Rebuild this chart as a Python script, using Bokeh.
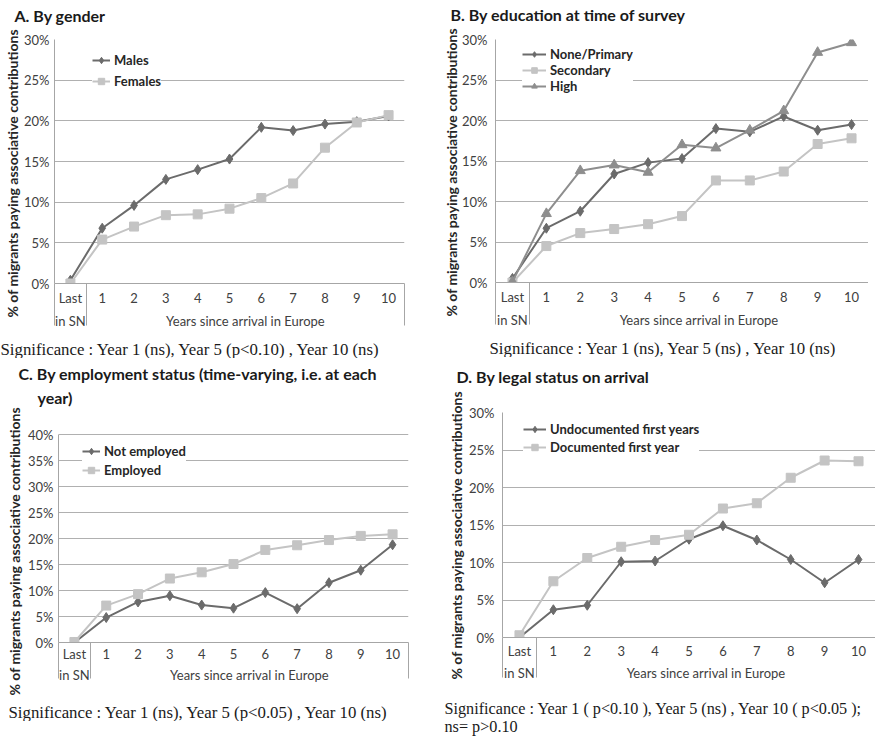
from bokeh.plotting import figure
from bokeh.models import (FixedTicker, LinearAxis, NumeralTickFormatter, Title, Legend,
                          LegendItem, Range1d, Grid)
from bokeh.layouts import row, column
from bokeh.embed import file_html
from bokeh.resources import INLINE

# ---------------- data ----------------
x_labels = ["Last", "1", "2", "3", "4", "5", "6", "7", "8", "9", "10"]
x_second_row = ["in SN", "Years since arrival in Europe"]
y_label = "% of migrants paying associative contributions"

a_males = [0.004, 0.068, 0.096, 0.128, 0.140, 0.153, 0.192, 0.188, 0.196, 0.199, 0.206]
a_females = [0.000, 0.054, 0.070, 0.084, 0.085, 0.092, 0.105, 0.123, 0.167, 0.198, 0.207]

b_none = [0.005, 0.067, 0.088, 0.134, 0.148, 0.153, 0.190, 0.186, 0.205, 0.188, 0.195]
b_secondary = [0.000, 0.045, 0.061, 0.066, 0.072, 0.082, 0.126, 0.126, 0.137, 0.171, 0.178]
b_high = [0.001, 0.085, 0.138, 0.145, 0.136, 0.170, 0.166, 0.188, 0.212, 0.284, 0.296]

c_not_employed = [0.000, 0.048, 0.078, 0.090, 0.072, 0.066, 0.096, 0.065, 0.115, 0.139, 0.188]
c_employed = [0.001, 0.071, 0.093, 0.123, 0.135, 0.151, 0.178, 0.187, 0.197, 0.205, 0.208]

d_undocumented = [0.000, 0.037, 0.043, 0.101, 0.102, 0.131, 0.149, 0.130, 0.104, 0.073, 0.104]
d_documented = [0.003, 0.075, 0.106, 0.121, 0.130, 0.137, 0.172, 0.179, 0.213, 0.236, 0.235]

y_ticks_30 = [0, 0.05, 0.10, 0.15, 0.20, 0.25, 0.30]
y_ticks_40 = [0, 0.05, 0.10, 0.15, 0.20, 0.25, 0.30, 0.35, 0.40]

titles_a = ["A. By gender"]
titles_b = ["B. By education at time of survey"]
titles_c = ["C. By employment status (time-varying, i.e. at each", "year)"]
titles_d = ["D. By legal status on arrival"]

sig_a = ["Significance : Year 1 (ns), Year 5 (p<0.10) , Year 10 (ns)"]
sig_b = ["Significance : Year 1 (ns), Year 5 (ns) , Year 10 (ns)"]
sig_c = ["Significance : Year 1 (ns), Year 5 (p<0.05) , Year 10 (ns)"]
sig_d = ["Significance : Year 1 ( p<0.10 ), Year 5 (ns) , Year 10 (  p<0.05 );\nns= p>0.10"]

# ---------------- styles ----------------
DARK = "#6b6b6b"
LIGHT = "#c4c4c4"
MID = "#8e8e8e"
GRID = "#b0b0b0"
AXIS = "#a6a6a6"
TXT = "#404040"
SANS = "Lato"
SERIF = "Liberation Serif"
TICK_FS = "13px"

STY = {
    "dark": dict(color=DARK, marker="diamond", size=10),
    "light": dict(color=LIGHT, marker="square", size=9),
    "mid": dict(color=MID, marker="triangle", size=10),
}


def spacer(n, at):
    """Invisible axis used only to reserve n pixels in a side panel."""
    return LinearAxis(ticker=FixedTicker(ticks=[at]), major_label_overrides={at: ""},
                      major_label_text_font_size="1px", major_label_standoff=0,
                      major_tick_out=n, major_tick_in=0, minor_tick_out=0, minor_tick_in=0,
                      axis_line_color=None, major_tick_line_color="white",
                      minor_tick_line_color=None)


def make_panel(cfg, series):
    x = list(range(len(x_labels)))
    ytop = cfg["yticks"][-1]
    p = figure(title=None, frame_width=cfg["fw"], frame_height=cfg["fh"] + cfg["y_pad"],
               min_border_left=cfg["bl"], min_border_right=cfg["br"],
               min_border_top=0, min_border_bottom=0,
               x_range=Range1d(-0.5, 10.5),
               y_range=Range1d(0, ytop * (cfg["fh"] + cfg["y_pad"]) / cfg["fh"]),
               x_axis_type=None, y_axis_type=None,
               output_backend="svg", toolbar_location=None)
    p.outline_line_color = None
    p.background_fill_color = "white"
    p.border_fill_color = "white"

    # y axis + grid
    yt = FixedTicker(ticks=cfg["yticks"])
    p.add_layout(Grid(dimension=1, ticker=yt, grid_line_color=GRID, grid_line_width=1))
    yaxis = LinearAxis(ticker=yt, formatter=NumeralTickFormatter(format="0%"), bounds=(0, ytop),
                       major_tick_out=0, major_tick_in=0, minor_tick_out=0, minor_tick_in=0,
                       axis_line_color=AXIS, major_label_standoff=cfg["ystand"],
                       major_label_text_font=SANS, major_label_text_font_size=TICK_FS,
                       major_label_text_color=TXT)
    p.add_layout(yaxis, "left")
    p.add_layout(Title(text=y_label, align="left", offset=cfg["ylab_off"], standoff=cfg["ylab_stand"],
                       text_font=SANS, text_font_style="bold", text_font_size="14px",
                       text_color="#262626"), "left")
    if cfg["l_gap"] > 0:
        p.add_layout(spacer(cfg["l_gap"], 0.0), "left")

    # category axis (two rows) with separators
    xt = FixedTicker(ticks=x, minor_ticks=[-0.49, 0.5, 10.49])
    xaxis = LinearAxis(ticker=xt, major_label_overrides={i: s for i, s in zip(x, x_labels)},
                       major_tick_out=0, major_tick_in=0, minor_tick_in=0,
                       minor_tick_out=cfg["sep"], minor_tick_line_color=AXIS,
                       axis_line_color=AXIS, major_label_standoff=cfg["xstand"] - cfg["sep"],
                       major_label_text_font=SANS, major_label_text_font_size=TICK_FS,
                       major_label_text_color=TXT)
    p.add_layout(xaxis, "below")
    xt2 = FixedTicker(ticks=[0, 5.5])
    xaxis2 = LinearAxis(ticker=xt2, major_label_overrides={0: x_second_row[0], 5.5: x_second_row[1]},
                        major_tick_out=0, major_tick_in=0, minor_tick_out=0, minor_tick_in=0,
                        axis_line_color=None, major_label_standoff=cfg["xstand2"],
                        major_label_text_font=SANS, major_label_text_font_size=TICK_FS,
                        major_label_text_color=TXT)
    p.add_layout(xaxis2, "below")

    # significance notes
    p.add_layout(spacer(cfg["sig_gap"], 10.45), "below")
    for txt, off in zip(cfg["sig"], cfg["sig_off"]):
        p.add_layout(Title(text=txt, align="left", offset=off, standoff=0,
                           text_font=SERIF, text_font_style="normal", text_font_size=cfg["sig_fs"],
                           text_line_height=cfg["sig_lh"], text_color="#1a1a1a"), "below")
    if cfg["b_end"] > 0:
        p.add_layout(spacer(cfg["b_end"], 10.45), "below")

    # panel titles (closest to frame first)
    p.add_layout(spacer(cfg["t_gap"], 10.45), "above")
    for txt, off, st in zip(cfg["titles"][::-1], cfg["title_off"][::-1], cfg["title_stand"][::-1]):
        p.add_layout(Title(text=txt, align="left", offset=off, standoff=st,
                           text_font=SANS, text_font_style="bold", text_font_size="16px",
                           text_color="#1a1a1a"), "above")
    if cfg["t_top"] > 0:
        p.add_layout(spacer(cfg["t_top"], 10.45), "above")

    items = []
    for name, vals, sty in series:
        st = STY[sty]
        r1 = p.line(x, vals, line_color=st["color"], line_width=2)
        r2 = p.scatter(x, vals, marker=st["marker"], size=st["size"],
                       fill_color=st["color"], line_color=st["color"])
        items.append(LegendItem(label=name, renderers=[r1, r2]))
    leg = Legend(items=items, location=cfg["leg_loc"], orientation="vertical",
                 background_fill_color="white", background_fill_alpha=1.0,
                 border_line_color=None, padding=cfg["leg_pad"], spacing=cfg["leg_sp"],
                 margin=0, glyph_width=cfg["glyph_w"], glyph_height=cfg["glyph_h"],
                 label_height=12, label_standoff=4,
                 label_text_font=SANS, label_text_font_style="bold",
                 label_text_font_size="13px", label_text_color="#262626")
    p.add_layout(leg)
    return p


cfg_a = dict(fw=350, fh=244, y_pad=0, bl=54, br=35, yticks=y_ticks_30,
             ystand=5, ylab_off=-34, ylab_stand=2, l_gap=0, sep=42, xstand=6, xstand2=4,
             sig_gap=6, sig=sig_a, sig_off=[-54], sig_fs="16.8px", sig_lh=1.0, b_end=0,
             t_gap=15, t_top=3, titles=titles_a, title_off=[-40], title_stand=[0],
             leg_loc=(38, 194), leg_pad=6, leg_sp=5, glyph_w=18, glyph_h=16)
cfg_b = dict(fw=373, fh=243, y_pad=0, bl=56, br=0, yticks=y_ticks_30,
             ystand=8, ylab_off=-34, ylab_stand=0, l_gap=0, sep=42, xstand=6, xstand2=4,
             sig_gap=6, sig=sig_b, sig_off=[-6], sig_fs="16.8px", sig_lh=1.0, b_end=0,
             t_gap=16, t_top=2, titles=titles_b, title_off=[-45], title_stand=[0],
             leg_loc=(27, 188), leg_pad=2, leg_sp=0, glyph_w=24, glyph_h=14)
cfg_c = dict(fw=350, fh=208, y_pad=22, bl=54, br=35, yticks=y_ticks_40,
             ystand=5, ylab_off=-53, ylab_stand=6, l_gap=0, sep=36, xstand=3, xstand2=2,
             sig_gap=15, sig=sig_c, sig_off=[-50], sig_fs="16.8px", sig_lh=1.0, b_end=0,
             t_gap=6, t_top=0, titles=titles_c, title_off=[-40, -21], title_stand=[6, 0],
             leg_loc=(24, 164), leg_pad=5, leg_sp=3, glyph_w=18, glyph_h=16)
cfg_d = dict(fw=373, fh=225, y_pad=0, bl=56, br=0, yticks=y_ticks_30,
             ystand=8, ylab_off=-42, ylab_stand=4, l_gap=0, sep=40, xstand=5, xstand2=3,
             sig_gap=15, sig=sig_d, sig_off=[-58], sig_fs="16.2px", sig_lh=1.02, b_end=3,
             t_gap=27, t_top=4, titles=titles_d, title_off=[-46], title_stand=[0],
             leg_loc=(21, 182), leg_pad=5, leg_sp=2, glyph_w=23, glyph_h=16)

pa = make_panel(cfg_a, [("Males", a_males, "dark"), ("Females", a_females, "light")])
pb = make_panel(cfg_b, [("None/Primary", b_none, "dark"), ("Secondary", b_secondary, "light"),
                        ("High", b_high, "mid")])
pc = make_panel(cfg_c, [("Not employed", c_not_employed, "dark"), ("Employed", c_employed, "light")])
pd_ = make_panel(cfg_d, [("Undocumented first years", d_undocumented, "dark"),
                         ("Documented first year", d_documented, "light")])

layout = column(row(pa, pb), row(pc, pd_))
open("out.html", "w").write(file_html(layout, INLINE))
